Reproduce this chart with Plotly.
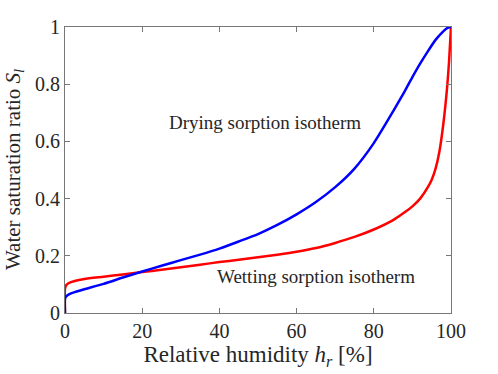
import plotly.graph_objects as go

# relative humidity [%] and saturation ratio
hr_drying = [0, 0, 0.3, 1, 2.5, 5, 10, 15, 20, 25, 30, 35, 40, 45, 50, 55, 60,
             65, 70, 75, 80, 85, 88, 90, 92, 94, 96, 98, 99, 100]
sl_drying = [0, 0.05, 0.058, 0.065, 0.073, 0.083, 0.102, 0.124, 0.145, 0.165,
             0.185, 0.204, 0.225, 0.25, 0.276, 0.308, 0.345, 0.388, 0.44,
             0.505, 0.594, 0.705, 0.775, 0.825, 0.872, 0.915, 0.955, 0.985, 0.996, 1.0]

hr_wetting = [0, 0, 0.3, 1, 2.5, 5, 10, 15, 20, 25, 30, 35, 40, 45, 50, 55, 60,
              65, 70, 75, 80, 85, 88, 90, 92, 94, 95, 96, 97, 98, 99, 99.5, 100]
sl_wetting = [0, 0.085, 0.097, 0.105, 0.112, 0.119, 0.127, 0.135, 0.143, 0.151,
              0.16, 0.169, 0.178, 0.186, 0.195, 0.204, 0.214, 0.227, 0.245, 0.266,
              0.292, 0.325, 0.352, 0.373, 0.40, 0.44, 0.466, 0.505, 0.565, 0.66,
              0.79, 0.88, 1.0]

x_ticks = [0, 20, 40, 60, 80, 100]
y_ticks = [0, 0.2, 0.4, 0.6, 0.8, 1]
y_labels = ["0", "0.2", "0.4", "0.6", "0.8", "1"]

font = "'Liberation Serif', 'Times New Roman', serif"
axis_color = "#777777"
text_color = "#262626"

fig = go.Figure()
fig.add_trace(go.Scatter(x=hr_wetting, y=sl_wetting, mode="lines",
                         line=dict(color="#ff0000", width=2.5,
                                   shape="spline", smoothing=0.6)))
fig.add_trace(go.Scatter(x=hr_drying, y=sl_drying, mode="lines",
                         line=dict(color="#0000ff", width=2.5,
                                   shape="spline", smoothing=0.6)))

fig.add_annotation(x=51.7, y=0.665, text="Drying sorption isotherm",
                   showarrow=False, font=dict(family=font, size=19, color=text_color))
fig.add_annotation(x=65, y=0.127, text="Wetting sorption isotherm",
                   showarrow=False, font=dict(family=font, size=19, color=text_color))

# y label as a rotated annotation so it can sit closer to the edge
fig.add_annotation(xref="paper", yref="paper", x=-0.132, y=0.5,
                   xanchor="center", yanchor="middle", textangle=-90,
                   text="Water saturation ratio <i>S</i><sub><i>l</i></sub>",
                   showarrow=False, font=dict(family=font, size=21, color=text_color))

axis_common = dict(showgrid=False, zeroline=False, showline=True,
                   linecolor=axis_color, linewidth=1, mirror="allticks",
                   ticks="inside", ticklen=5, tickcolor=axis_color,
                   tickfont=dict(family=font, size=20, color=text_color))

fig.update_xaxes(range=[0, 100], tickvals=x_ticks,
                 title=dict(text="Relative humidity <i>h</i><sub><i>r</i></sub> [%]",
                            font=dict(family=font, size=23, color=text_color),
                            standoff=0),
                 **axis_common)
fig.update_yaxes(range=[0, 1], tickvals=y_ticks, ticktext=y_labels, **axis_common)

fig.update_layout(width=498, height=374, showlegend=False,
                  margin=dict(l=65, r=47, t=27, b=61, autoexpand=False),
                  plot_bgcolor="white", paper_bgcolor="white")

# drop the default page margin so the figure sits at the window corner
fig.write_html("out.html", config={"displayModeBar": False},
               post_script="document.body.style.margin = '0';")
